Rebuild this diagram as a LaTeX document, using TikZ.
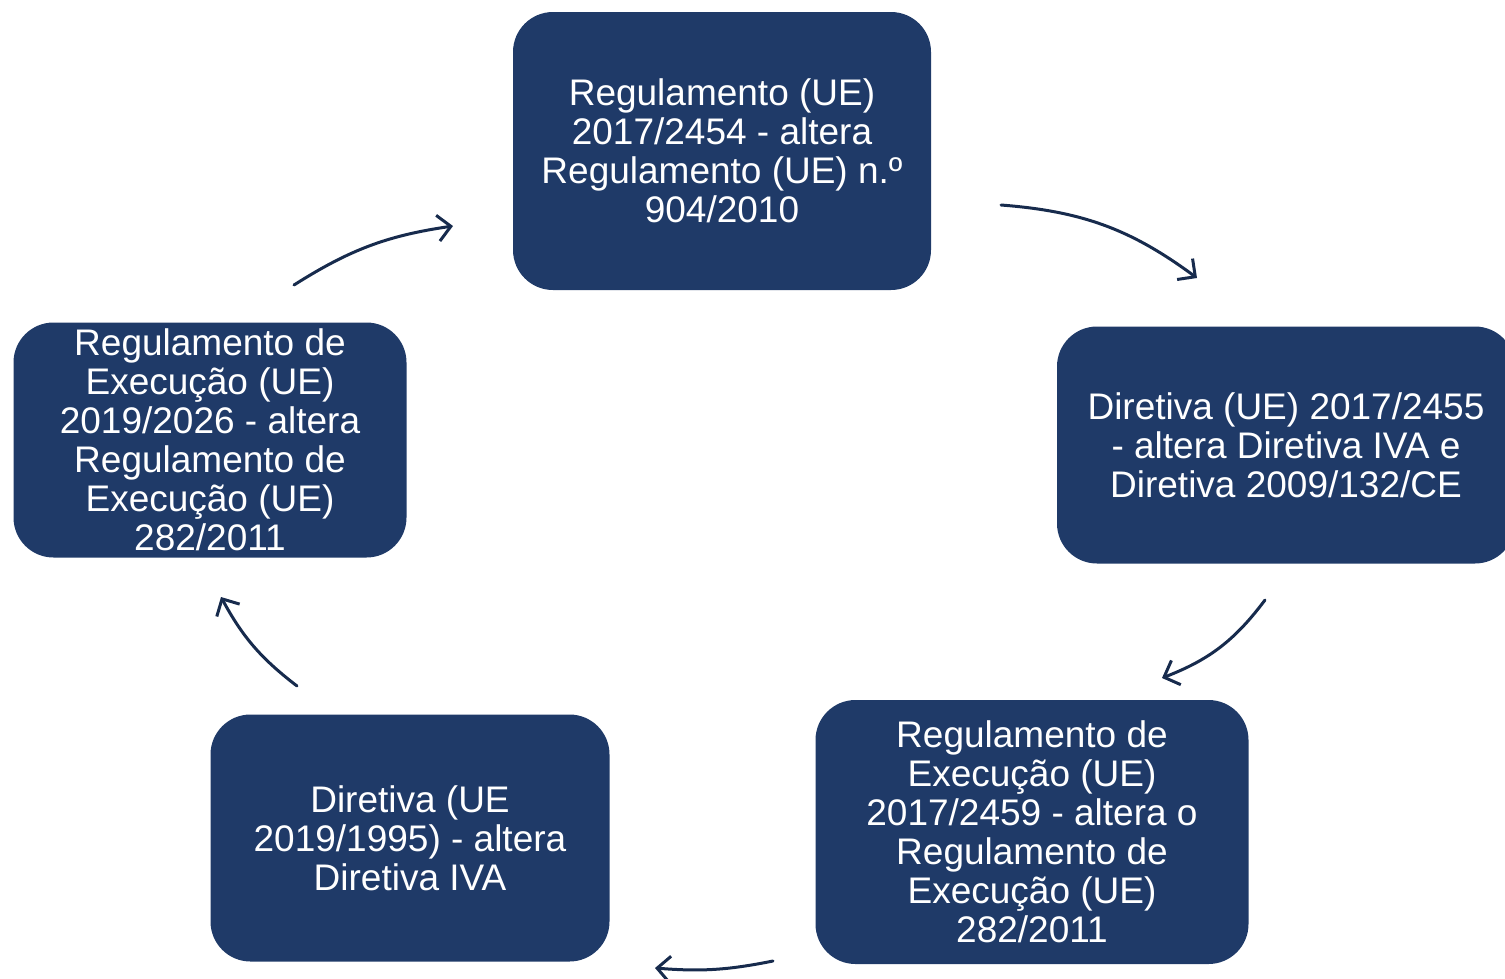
\documentclass[tikz,border=0pt]{standalone}
\usepackage{fontspec}
\setmainfont{Liberation Sans}
\usetikzlibrary{arrows.meta}
\definecolor{boxblue}{HTML}{1F3A68}
\definecolor{arrowblue}{HTML}{172B4D}
\begin{document}
\begin{tikzpicture}[x=1pt,y=-1pt,
  box/.style={fill=boxblue, rounded corners=40pt, text=white, align=center,
    font=\fontsize{37}{39}\selectfont, inner sep=0pt},
  conn/.style={draw=arrowblue, line width=3pt, line cap=round,
    -{Straight Barb[length=13pt,width=26pt,line width=3pt]}}]
\useasboundingbox (0,0) rectangle (1505,978);
\node[box, minimum width=418pt, minimum height=278pt] (n1) at (722,151)
  {Regulamento (UE)\\2017/2454 - altera\\Regulamento (UE) n.º\\904/2010};
\node[box, minimum width=458pt, minimum height=237pt] (n2) at (1286,445)
  {Diretiva (UE) 2017/2455\\- altera Diretiva IVA e\\Diretiva 2009/132/CE};
\node[box, minimum width=433pt, minimum height=264pt] (n3) at (1032,832)
  {Regulamento de\\Execução (UE)\\2017/2459 - altera o\\Regulamento de\\Execução (UE)\\282/2011};
\node[box, minimum width=399pt, minimum height=247pt] (n4) at (410,838)
  {Diretiva (UE\\2019/1995) - altera\\Diretiva IVA};
\node[box, minimum width=393pt, minimum height=235pt] (n5) at (210,440)
  {Regulamento de\\Execução (UE)\\2019/2026 - altera\\Regulamento de\\Execução (UE)\\282/2011};
\coordinate (a1s) at (1001,205); \coordinate (a1e) at (1197,278);
\coordinate (a2s) at (1265,600); \coordinate (a2e) at (1162,678);
\coordinate (a3s) at (773,961);  \coordinate (a3e) at (655,968);
\coordinate (a4s) at (297,686);  \coordinate (a4e) at (221,597);
\coordinate (a5s) at (294,285);  \coordinate (a5e) at (453,226);
\draw[conn] (a1s) to[bend left=16] (a1e);
\draw[conn] (a2s) to[bend left=16] (a2e);
\draw[conn] (a3s) to[bend left=8] (a3e);
\draw[conn] (a4s) to[bend left=12] (a4e);
\draw[conn] (a5s) to[bend left=12] (a5e);
\end{tikzpicture}
\end{document}
